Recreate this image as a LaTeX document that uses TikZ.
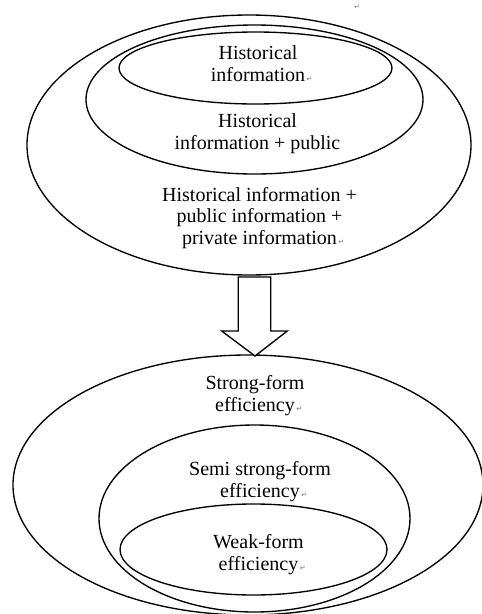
\documentclass[tikz,border=0pt]{standalone}
\usepackage{fontspec}
\setmainfont{Liberation Serif}
\newfontfamily\markfont{DejaVu Sans}
\usetikzlibrary{shapes.geometric}
\newcommand{\pmark}{\rlap{\hspace{1.5pt}\textcolor{black!55}{\markfont\fontsize{7}{7}\selectfont ↵}}}
\begin{document}
\begin{tikzpicture}[x=1pt,y=-1pt,line width=1.35pt,
  oval/.style={ellipse, draw=black, inner sep=0pt},
  lbl/.style={align=center, anchor=base, inner sep=0pt,
    font=\fontsize{20}{21.3}\selectfont},
  blockarrow/.style={draw=black, fill=white, line width=1.35pt, line join=miter}]
\useasboundingbox (0,0) rectangle (482,614);
\clip (0,0) rectangle (482,614);
% top group
\node[oval, minimum width=444pt, minimum height=260pt] (o1) at (249,145) {};
\node[oval, minimum width=337pt, minimum height=149pt] (o2) at (254.5,99.5) {};
\node[oval, minimum width=273pt, minimum height=72pt] (o3) at (255.5,68) {};
\node[lbl] (t3) at (258,81) {Historical\\information\pmark};
\node[lbl] (t2) at (257.5,149) {Historical\\information + public};
\node[lbl] (t1) at (259.5,244) {Historical information +\\public information +\\private information\pmark};
\node[inner sep=0pt, text=black!55, font=\markfont\fontsize{7}{7}\selectfont] (m0) at (357,7) {↵};
% bottom group
\node[oval, minimum width=470pt, minimum height=260pt] (b1) at (248,485) {};
\node[oval, minimum width=311pt, minimum height=187pt] (b2) at (254.5,518.5) {};
\node[oval, minimum width=267pt, minimum height=91pt] (b3) at (253.5,549.5) {};
\node[lbl] (s1) at (255,411) {Strong-form\\efficiency\pmark};
\node[lbl] (s2) at (260,497) {Semi strong-form\\efficiency\pmark};
\node[lbl] (s3) at (258.5,570) {Weak-form\\efficiency\pmark};
% block arrow from top group to bottom group
\coordinate (atop) at (254.5,277);
\coordinate (atip) at (255,356);
\draw[blockarrow] (atop) ++(-16.2,0) -- ++(32.4,0) |- ++(16.6,54) -- (atip) -- ++(-33.3,-25) -| cycle;
\end{tikzpicture}
\end{document}
